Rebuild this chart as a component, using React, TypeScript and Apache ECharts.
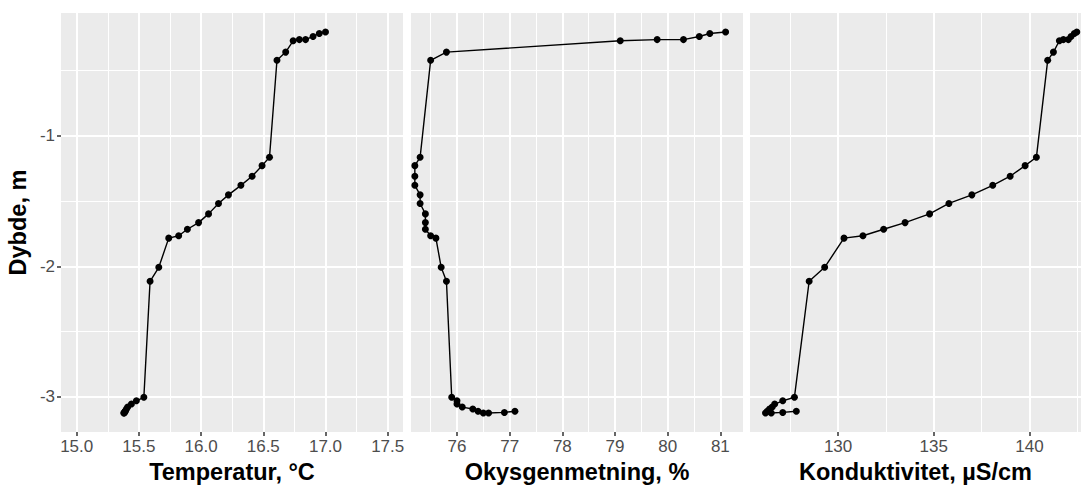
import React, { useEffect, useRef } from "react";
import * as echarts from "echarts";

// Depth (m) of each measurement
const depth = [
  -0.203, -0.214, -0.237, -0.261, -0.261, -0.27, -0.357, -0.42, -1.164, -1.228,
  -1.309, -1.379, -1.452, -1.518, -1.598, -1.665, -1.716, -1.766, -1.784, -2.008,
  -2.115, -3.005, -3.032, -3.057, -3.08, -3.095, -3.112, -3.126, -3.126, -3.121,
  -3.112,
];
// Temperature, °C
const temperature = [
  17.0, 16.95, 16.9, 16.84, 16.79, 16.74, 16.68, 16.61, 16.55, 16.49,
  16.41, 16.32, 16.22, 16.14, 16.06, 15.98, 15.89, 15.82, 15.74, 15.66,
  15.59, 15.54, 15.48, 15.44, 15.41, 15.4, 15.39, 15.38, 15.38, 15.385,
  15.39,
];
// Oxygen saturation, %
const oxygen = [
  81.1, 80.8, 80.6, 80.3, 79.8, 79.1, 75.8, 75.5, 75.3, 75.2,
  75.2, 75.2, 75.3, 75.3, 75.4, 75.4, 75.4, 75.5, 75.6, 75.7,
  75.8, 75.9, 76.0, 76.0, 76.1, 76.3, 76.4, 76.5, 76.6, 76.9,
  77.1,
];
// Conductivity, µS/cm
const conductivity = [
  142.47, 142.34, 142.17, 142.03, 141.77, 141.56, 141.25, 140.95, 140.36, 139.77,
  138.99, 138.08, 136.99, 135.79, 134.78, 133.5, 132.38, 131.3, 130.31, 129.3,
  128.49, 127.72, 127.11, 126.69, 126.56, 126.42, 126.3, 126.21, 126.51, 127.11,
  127.82,
];

// Axis ticks / gridlines
const depthMajor = [-3, -2, -1];
const depthMinor = [-2.5, -1.5, -0.5];
const tempMajor = [15, 15.5, 16, 16.5, 17, 17.5];
const tempMinor = [15.25, 15.75, 16.25, 16.75, 17.25];
const oxyMajor = [76, 77, 78, 79, 80, 81];
const oxyMinor = [75.5, 76.5, 77.5, 78.5, 79.5, 80.5];
const condMajor = [130, 135, 140];
const condMinor = [127.5, 132.5, 137.5, 142.5];

const depthRange = [-3.272, -0.057];
const tempRange = [14.874, 17.623];
const oxyRange = [75.127, 81.43];
const condRange = [125.4, 142.69];

const titles = ["Temperatur, °C", "Okysgenmetning, %", "Konduktivitet, µS/cm"];

const FONT = "Liberation Sans, Arial, sans-serif";

export default function App() {
  const ref = useRef<HTMLDivElement>(null);
  useEffect(() => {
    if (!ref.current) return;
    const chart = echarts.init(ref.current, null, { renderer: "svg" });
    const grids = [
      { left: 61, top: 13, width: 342, height: 426 },
      { left: 411, top: 13, width: 332, height: 426 },
      { left: 750, top: 13, width: 331, height: 426 },
    ].map((g) => ({ ...g, show: true, backgroundColor: "#EBEBEB", borderWidth: 0 }));

    const xs = [
      { range: tempRange, major: tempMajor, minor: tempMinor, fmt: (v: number) => v.toFixed(1), vals: temperature },
      { range: oxyRange, major: oxyMajor, minor: oxyMinor, fmt: (v: number) => String(v), vals: oxygen },
      { range: condRange, major: condMajor, minor: condMinor, fmt: (v: number) => String(v), vals: conductivity },
    ];

    const xAxis = xs.map((a, i) => ({
      type: "value",
      gridIndex: i,
      min: a.range[0],
      max: a.range[1],
      axisLine: { show: false },
      splitLine: { show: false },
      axisTick: { show: true, customValues: a.major, length: 4, lineStyle: { color: "#333333", width: 1.5 } },
      axisLabel: {
        customValues: a.major,
        color: "#4D4D4D",
        fontSize: 17,
        margin: 6,
        fontFamily: FONT,
        formatter: (v: number) => a.fmt(v),
      },
      name: titles[i],
      nameLocation: "middle",
      nameGap: 38,
      nameTextStyle: {
        color: "#000000",
        fontSize: 23.5,
        fontWeight: "bold",
        fontFamily: FONT,
        verticalAlign: "middle",
      },
    }));

    const yAxis = [0, 1, 2].map((i) => ({
      type: "value",
      gridIndex: i,
      min: depthRange[0],
      max: depthRange[1],
      axisLine: { show: false },
      splitLine: { show: false },
      axisTick: { show: i === 0, customValues: depthMajor, length: 4, lineStyle: { color: "#333333", width: 1.5 } },
      axisLabel: {
        show: i === 0,
        customValues: depthMajor,
        color: "#4D4D4D",
        fontSize: 17,
        margin: 6,
        fontFamily: FONT,
      },
      name: i === 0 ? "Dybde, m" : "",
      nameLocation: "middle",
      nameGap: 31,
      nameTextStyle: {
        color: "#000000",
        fontSize: 23.5,
        fontWeight: "bold",
        fontFamily: FONT,
      },
    }));

    const series: any[] = [];
    xs.forEach((a, i) => {
      const lines: any[] = [];
      depthMinor.forEach((v) => lines.push({ yAxis: v, lineStyle: { color: "#FFFFFF", width: 1, type: "solid" } }));
      a.minor.forEach((v) => lines.push({ xAxis: v, lineStyle: { color: "#FFFFFF", width: 1, type: "solid" } }));
      depthMajor.forEach((v) => lines.push({ yAxis: v, lineStyle: { color: "#FFFFFF", width: 2, type: "solid" } }));
      a.major.forEach((v) => lines.push({ xAxis: v, lineStyle: { color: "#FFFFFF", width: 2, type: "solid" } }));
      series.push({
        type: "line",
        xAxisIndex: i,
        yAxisIndex: i,
        data: [],
        z: 1,
        silent: true,
        markLine: {
          silent: true,
          symbol: ["none", "none"],
          label: { show: false },
          emphasis: { disabled: true },
          data: lines,
        },
      });
      series.push({
        type: "line",
        xAxisIndex: i,
        yAxisIndex: i,
        z: 5,
        data: a.vals.map((v, k) => [v, depth[k]]),
        symbol: "circle",
        symbolSize: 7,
        showSymbol: true,
        itemStyle: { color: "#000000" },
        lineStyle: { color: "#000000", width: 1.4 },
      });
    });

    chart.setOption({
      animation: false,
      backgroundColor: "#FFFFFF",
      grid: grids,
      xAxis,
      yAxis,
      series,
    });
    return () => chart.dispose();
  }, []);
  return (
    <div
      ref={ref}
      style={{ position: "fixed", left: 0, top: 0, width: 1082, height: 489 }}
    />
  );
}
